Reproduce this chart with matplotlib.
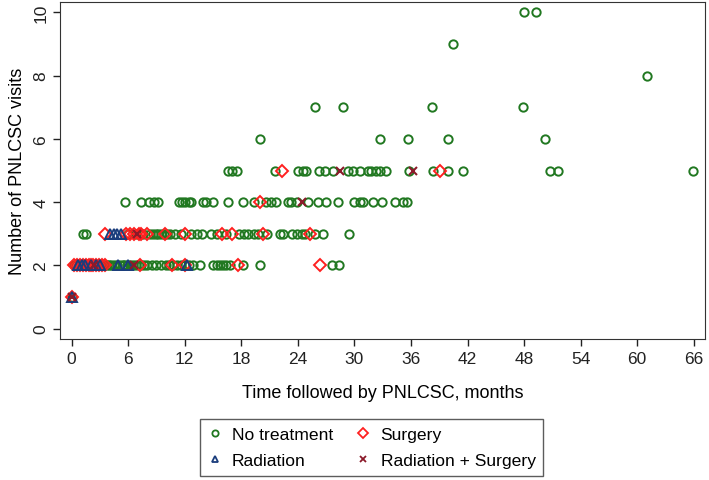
import matplotlib
matplotlib.use("Agg")
import matplotlib.pyplot as plt
from matplotlib.lines import Line2D

plt.rcParams['font.family'] = ['Liberation Sans', 'DejaVu Sans']

# months followed, grouped by number of visits
no_treat = {
    1: [0.0],
    2: [0.2, 0.5, 0.8, 1.0, 1.3, 1.6, 1.9, 2.2, 2.5, 2.8, 3.1, 3.4, 3.7, 4.0, 4.2, 4.5,
        4.8, 5.1, 5.4, 5.6, 5.9, 6.2, 6.5, 6.8, 7.1, 7.4, 7.7, 8.0, 8.5, 9.0, 9.5, 10.0,
        10.3, 10.8, 11.2, 11.6, 12.0, 12.5, 12.9, 13.6, 15.0, 15.4, 15.7, 16.1, 16.4,
        16.8, 18.2, 20.0, 27.6, 28.4],
    3: [1.2, 1.5, 6.0, 6.8, 7.6, 8.3, 8.6, 8.9, 9.2, 9.5, 9.8, 10.1, 10.4, 11.0, 11.6,
        12.7, 13.3, 13.8, 14.8, 15.4, 16.4, 17.8, 18.3, 18.7, 19.3, 19.8, 20.7, 22.1,
        22.4, 23.4, 23.9, 24.4, 24.8, 25.8, 26.7, 29.4],
    4: [5.7, 7.35, 8.2, 8.7, 9.2, 11.4, 11.7, 12.0, 12.4, 12.7, 13.9, 14.2, 15.0, 16.6,
        18.2, 19.3, 20.6, 21.1, 21.7, 23.0, 23.3, 23.9, 25.1, 26.1, 27.0, 28.3, 30.0,
        30.6, 30.9, 32.0, 32.9, 34.3, 35.2, 35.6],
    5: [16.6, 17.0, 17.5, 21.6, 24.0, 24.5, 24.9, 26.2, 26.9, 27.7, 29.3, 29.9, 30.6,
        31.4, 31.8, 32.3, 32.7, 33.3, 35.8, 38.3, 39.9, 41.5, 50.7, 51.6, 65.9],
    6: [20.0, 32.7, 35.7, 39.9, 50.2],
    7: [25.8, 28.8, 38.2, 47.9],
    8: [61.0],
    9: [40.5],
    10: [48.0, 49.3],
}
surgery = {
    1: [0.0],
    2: [0.3, 0.6, 0.9, 1.2, 1.5, 1.8, 2.0, 2.3, 2.6, 2.9, 3.2, 3.5, 7.2, 10.6, 12.0,
        17.6, 26.4],
    3: [3.5, 5.8, 6.2, 6.6, 7.1, 7.4, 8.0, 9.9, 12.0, 16.0, 17.0, 20.3, 25.3],
    4: [20.0],
    5: [22.3, 39.1],
}
radiation = {
    1: [0.0],
    2: [0.7, 1.1, 1.4, 2.1, 2.6, 3.0, 4.9, 6.0, 12.2],
    3: [4.1, 4.5, 4.8, 5.2],
}
rad_surg = {
    1: [0.0],
    2: [2.4, 6.6],
    3: [6.9],
    4: [24.4],
    5: [28.5, 36.2],
}


def flat(d):
    xs, ys = [], []
    for k, v in d.items():
        xs += v
        ys += [k] * len(v)
    return xs, ys


fig = plt.figure(figsize=(7.09, 4.81), dpi=100)
ax = fig.add_axes([0.0846, 0.2931, 0.9098, 0.7007])

green = '#217821'
navy = '#1a3d7c'
red = '#ff2020'
maroon = '#8b1a2a'

x, y = flat(no_treat)
ax.plot(x, y, 'o', ms=6, mfc='none', mec=green, mew=1.4, ls='none')
x, y = flat(surgery)
ax.plot(x, y, 'D', ms=6.5, mfc='none', mec=red, mew=1.4, ls='none')
x, y = flat(radiation)
ax.plot(x, y, '^', ms=6.5, mfc='none', mec=navy, mew=1.4, ls='none')
x, y = flat(rad_surg)
ax.plot(x, y, 'x', ms=5.5, mec=maroon, mew=1.5, ls='none')

ax.set_xlim(-1.24, 67.2)
ax.set_ylim(-0.33, 10.33)
ax.set_xticks(range(0, 67, 6))
ax.set_yticks(range(0, 11, 2))
ax.tick_params(labelsize=12.5, length=5, width=1, colors='#222222')
for lab in ax.get_yticklabels():
    lab.set_rotation(90)
    lab.set_va('center')
for s in ax.spines.values():
    s.set_color('#333333')
ax.set_xlabel('Time followed by PNLCSC, months', fontsize=13, labelpad=13)
ax.set_ylabel('Number of PNLCSC visits', fontsize=13, labelpad=5)

handles = [
    Line2D([], [], marker='o', ls='none', ms=4.5, mfc='none', mec=green, mew=1.3),
    Line2D([], [], marker='^', ls='none', ms=5, mfc='none', mec=navy, mew=1.3),
    Line2D([], [], marker='D', ls='none', ms=5, mfc='none', mec=red, mew=1.3),
    Line2D([], [], marker='x', ls='none', ms=4.5, mec=maroon, mew=1.3),
]
labels = ['No treatment', 'Radiation', 'Surgery', 'Radiation + Surgery']
leg = fig.legend(handles, labels, ncol=2, loc='center', bbox_to_anchor=(0.524, 0.068),
                 fontsize=12.6, frameon=True, fancybox=False, edgecolor='#333333',
                 handlelength=0.8, handletextpad=0.6, columnspacing=1.3,
                 borderpad=0.45, labelspacing=0.6)
leg.get_frame().set_linewidth(1)

fig.savefig('out.png', dpi=100)
